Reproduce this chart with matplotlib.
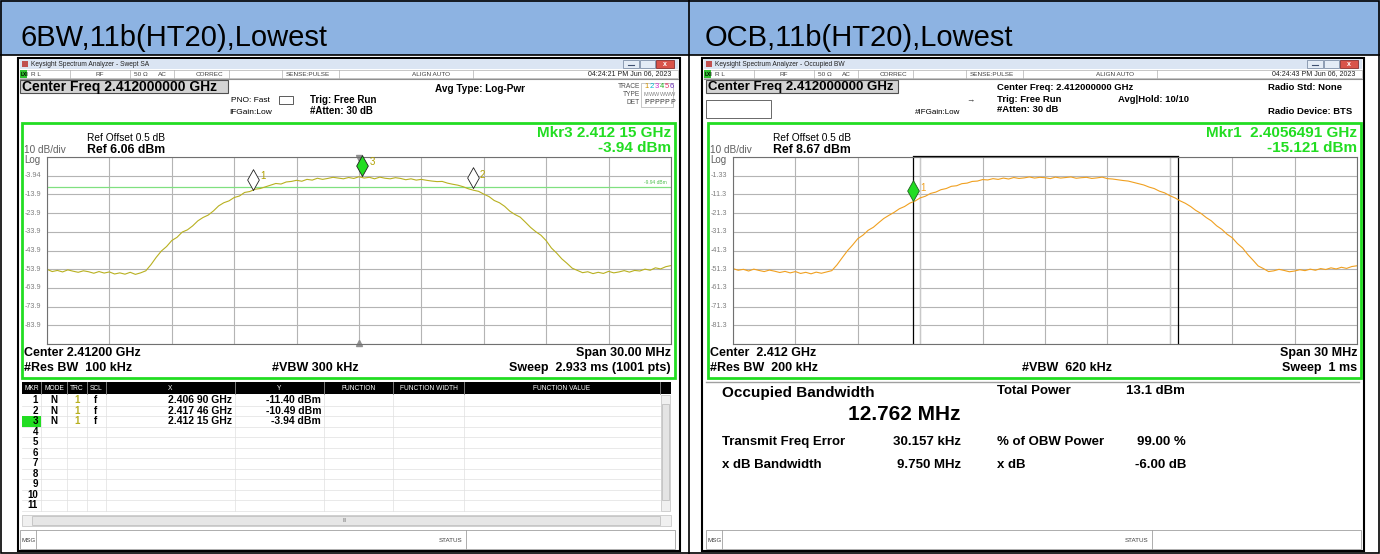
import matplotlib
matplotlib.use("Agg")
import matplotlib.pyplot as plt
from matplotlib.patches import Rectangle

plt.rcParams['font.family'] = ['Liberation Sans', 'DejaVu Sans']

W, H = 1380, 554

# ---- data ----
titles = ["6BW,11b(HT20),Lowest", "OCB,11b(HT20),Lowest"]

# MHz offset from the 2.412 GHz centre
freq_off = [-15.0, -14.75, -14.5, -14.25, -14.0, -13.75, -13.5, -13.25, -13.0, -12.75,
            -12.5, -12.25, -12.0, -11.75, -11.5, -11.25, -11.0, -10.75, -10.5, -10.25,
            -10.0, -9.75, -9.5, -9.25, -9.0, -8.75, -8.5, -8.25, -8.0, -7.75,
            -7.5, -7.25, -7.0, -6.75, -6.5, -6.25, -6.0, -5.75, -5.5, -5.25,
            -5.0, -4.75, -4.5, -4.25, -4.0, -3.75, -3.5, -3.25, -3.0, -2.75,
            -2.5, -2.25, -2.0, -1.75, -1.5, -1.25, -1.0, -0.75, -0.5, -0.25,
            0.0, 0.25, 0.5, 0.75, 1.0, 1.25, 1.5, 1.75, 2.0, 2.25,
            2.5, 2.75, 3.0, 3.25, 3.5, 3.75, 4.0, 4.25, 4.5, 4.75,
            5.0, 5.25, 5.5, 5.75, 6.0, 6.25, 6.5, 6.75, 7.0, 7.25,
            7.5, 7.75, 8.0, 8.25, 8.5, 8.75, 9.0, 9.25, 9.5, 9.75,
            10.0, 10.25, 10.5, 10.75, 11.0, 11.25, 11.5, 11.75, 12.0, 12.25,
            12.5, 12.75, 13.0, 13.25, 13.5, 13.75, 14.0, 14.25, 14.5, 14.75, 15.0]

trace_6bw = [-54.0, -55.2, -54.6, -55.4, -54.3, -55.0, -55.6, -54.8, -55.3, -56.1,
             -55.2, -56.0, -55.4, -56.5, -55.9, -56.6, -55.6, -56.7, -55.9, -54.8,
             -51.5, -47.6, -44.2, -41.8, -38.6, -36.9, -34.1, -32.9, -30.8, -28.1,
             -26.3, -25.0, -22.8, -20.1, -18.4, -17.4, -15.6, -14.8, -12.9, -12.4,
             -11.2, -10.8, -9.9, -9.0, -8.1, -8.4, -7.3, -7.0, -6.4, -6.9,
             -5.9, -6.3, -5.3, -5.9, -5.4, -4.8, -5.2, -5.6, -4.9, -5.4,
             -4.5, -5.2, -4.8, -5.6, -4.7, -5.3, -5.6, -5.0, -5.4, -6.1,
             -5.6, -6.3, -5.9, -6.4, -6.8, -7.1, -7.0, -7.9, -8.5, -9.0,
             -9.8, -10.9, -11.7, -12.3, -13.8, -15.1, -17.2, -18.4, -20.3, -22.9,
             -24.7, -26.1, -28.8, -31.6, -33.9, -35.8, -38.7, -42.6, -45.3, -48.4,
             -50.8, -53.4, -54.6, -55.8, -55.3, -56.3, -55.6, -56.2, -55.1, -55.9,
             -55.4, -54.7, -55.5, -54.6, -54.9, -53.9, -54.5, -53.2, -53.8, -52.6, -52.0]

trace_ocb = [-51.0, -51.9, -51.4, -52.3, -51.3, -52.0, -52.6, -51.8, -52.4, -53.1,
             -52.5, -53.3, -52.6, -53.6, -53.0, -53.8, -52.9, -53.5, -52.8, -52.1,
             -49.0, -45.2, -41.5, -38.4, -35.0, -33.1, -30.5, -28.9, -26.5, -24.2,
             -22.5, -20.9, -19.0, -17.8, -16.0, -14.9, -13.2, -12.3, -10.8, -10.1,
             -8.8, -8.2, -7.0, -6.7, -5.6, -5.3, -4.4, -4.2, -3.4, -3.6,
             -2.9, -3.3, -2.6, -3.1, -2.3, -2.8, -2.5, -2.0, -2.6, -2.2,
             -2.4, -2.9, -2.1, -2.6, -2.3, -2.0, -2.7, -2.4, -2.2, -2.8,
             -2.5, -2.1, -2.9, -3.1, -3.5, -3.9, -4.2, -4.9, -5.6, -6.3,
             -7.4, -8.2, -9.6, -10.5, -12.0, -13.2, -14.8, -16.1, -17.8, -19.9,
             -21.5, -23.7, -25.5, -28.1, -30.0, -32.6, -34.5, -37.6, -40.0, -43.5,
             -46.5, -49.6, -51.0, -52.6, -52.2, -51.4, -52.0, -52.7, -52.3, -51.6,
             -52.1, -51.3, -51.9, -51.0, -51.5, -50.6, -51.2, -50.3, -50.9, -49.9, -49.5]

ref_levels = [6.06, 8.67]
ytick_6bw = ["-3.94", "-13.9", "-23.9", "-33.9", "-43.9", "-53.9", "-63.9", "-73.9", "-83.9"]
ytick_ocb = ["-1.33", "-11.3", "-21.3", "-31.3", "-41.3", "-51.3", "-61.3", "-71.3", "-81.3"]

mkr_names = ["1", "2", "3"]
mkr_freq = [-5.10, 5.46, 0.15]
mkr_level = [-11.40, -10.49, -3.94]
mkr_x_txt = ["2.406 90 GHz", "2.417 46 GHz", "2.412 15 GHz"]
mkr_y_txt = ["-11.40 dBm", "-10.49 dBm", "-3.94 dBm"]
display_line = -9.94

ocb_mkr_freq = -6.35
ocb_mkr_level = -15.121
obw_edges = [-6.35, 6.41]
xdb_edges = [-6.0, 6.0]

table_cols = ["MKR", "MODE", "TRC", "SCL", "X", "Y", "FUNCTION", "FUNCTION WIDTH", "FUNCTION VALUE"]

GREEN = '#22dd22'
HEADER = '#8db3e2'

fig = plt.figure(figsize=(W / 100, H / 100), dpi=100)
bg = fig.add_axes([0, 0, 1, 1])
bg.set_xlim(0, W)
bg.set_ylim(H, 0)
bg.axis('off')


def rect(x0, y0, x1, y1, fc='none', ec='none', lw=1.0, z=1):
    bg.add_patch(Rectangle((x0, y0), x1 - x0, y1 - y0, fc=fc, ec=ec, lw=lw, zorder=z))


def txt(x, y, s, size=6, ha='left', color='black', bold=False, z=5):
    bg.text(x, y, s, fontsize=size, ha=ha, va='center', color=color,
            fontweight='bold' if bold else 'normal', zorder=z)


def ax_px(x0, y0, x1, y1):
    return fig.add_axes([x0 / W, 1 - y1 / H, (x1 - x0) / W, (y1 - y0) / H])


# outer table
rect(0, 0, W, 55, fc=HEADER)
rect(1, 1, W - 1, H - 1, ec='black', lw=1.2, z=6)
bg.plot([0, W], [55, 55], color='black', lw=1.2, zorder=6)
bg.plot([689, 689], [0, H], color='black', lw=1.2, zorder=6)
bg.text(20, 38, titles[0], fontsize=21, va='center')
bg.text(705, 38, titles[1], fontsize=21, va='center')


def window(ox, name, clock):
    rect(ox - 2, 58, ox + 660, 551, fc='white', ec='black', lw=1.5)
    rect(ox, 59, ox + 658, 69, fc='#dbe5f3')
    rect(ox + 2, 61, ox + 8, 67, fc='#c05050')
    txt(ox + 11, 64, "Keysight Spectrum Analyzer - " + name, size=4.8, color='#222222')
    rect(ox + 603, 60, ox + 619, 68, fc='#e4ecf6', ec='#8090a8', lw=0.6)
    rect(ox + 620, 60, ox + 635, 68, fc='#e4ecf6', ec='#8090a8', lw=0.6)
    rect(ox + 636, 60, ox + 654, 68, fc='#d9534a', ec='#8a3030', lw=0.6)
    bg.plot([ox + 608, ox + 614], [65, 65], color='#405070', lw=0.8, zorder=6)
    txt(ox + 645, 64, "x", size=5, ha='center', color='white', bold=True, z=7)
    # status row
    rect(ox, 70, ox + 658, 78, fc='white', ec='#b0b0b0', lw=0.5)
    rect(ox, 70, ox + 7, 78, fc='#30c030')
    txt(ox + 1, 74, "LXI", size=3.5, bold=True)
    for sx in [50, 110, 154, 209, 262, 319, 453]:
        bg.plot([ox + sx, ox + sx], [70, 78], color='#b0b0b0', lw=0.5, zorder=3)
    for sx, s in [(11, "R L"), (75, "RF"), (114, "50 Ω"), (138, "AC"), (176, "CORREC"),
                  (266, "SENSE:PULSE"), (392, "ALIGN AUTO")]:
        txt(ox + sx, 74, s, size=4.6, color='#404040')
    txt(ox + 651, 74, clock, size=5, ha='right', color='#202020')
    bg.plot([ox, ox + 658], [79, 79], color='#909090', lw=0.8, zorder=3)


def screen(ox, ref, ticks, bottom_l, bottom_c, bottom_r, mkr_txt):
    rect(ox + 2, 123, ox + 655, 378, fc='white', ec=GREEN, lw=2.0, z=2)
    txt(ox + 651, 133, mkr_txt[0], size=11, ha='right', color=GREEN, bold=True)
    txt(ox + 651, 148, mkr_txt[1], size=11, ha='right', color=GREEN, bold=True)
    txt(ox + 67, 138, "Ref Offset 0.5 dB", size=7.3)
    txt(ox + 67, 150, "Ref %.2f dBm" % ref, size=8.8, bold=True)
    txt(ox + 4, 150, "10 dB/div", size=7.2, color='#606060')
    txt(ox + 4, 160, "Log", size=7, color='#606060')
    top, bot = 157, 344
    div = (bot - top) / 10.0
    for i, s in enumerate(ticks):
        txt(ox + 5, top + (i + 1) * div, s, size=5.2, color='#808080')
    txt(ox + 4, 353, bottom_l[0], size=9, bold=True)
    txt(ox + 4, 368, bottom_l[1], size=9, bold=True)
    txt(bottom_c[0], 368, bottom_c[1], size=9, bold=True)
    txt(ox + 651, 353, bottom_r[0], size=9, ha='right', bold=True)
    txt(ox + 651, 368, bottom_r[1], size=9, ha='right', bold=True)
    ax = ax_px(ox + 27, top, ox + 651, bot)
    ax.set_xlim(-15, 15)
    ax.set_ylim(ref - 100, ref)
    ax.set_xticks([-15 + 3 * i for i in range(11)])
    ax.set_yticks([ref - 10 * i for i in range(11)])
    ax.grid(True, color='#b4b4b4', lw=0.8)
    ax.tick_params(length=0, labelbottom=False, labelleft=False)
    for sp in ax.spines.values():
        sp.set_color('#707070')
        sp.set_linewidth(0.8)
    ax.set_zorder(3)
    return ax


diamond = [(0, 0), (0.28, 0.5), (0, 1), (-0.28, 0.5), (0, 0)]

# ---------- left: 6 dB bandwidth (swept SA) ----------
ox = 20
window(ox, "Swept SA", "04:24:21 PM Jun 06, 2023")
rect(ox, 80, ox + 208, 93, fc='#d4d4d4', ec='#505050', lw=0.8)
txt(ox + 2, 87, "Center Freq 2.412000000 GHz", size=10, bold=True)
txt(ox + 250, 101, "PNO: Fast", size=6, ha='right')
txt(ox + 252, 112, "IFGain:Low", size=6, ha='right')
rect(ox + 259, 96, ox + 273, 104, fc='white', ec='#404040', lw=0.6)
txt(ox + 290, 100, "Trig: Free Run", size=7, bold=True)
txt(ox + 290, 111, "#Atten: 30 dB", size=7, bold=True)
txt(ox + 415, 89, "Avg Type: Log-Pwr", size=7.2, bold=True)
txt(ox + 620, 87, "TRACE", size=4.8, ha='right', color='#505050')
txt(ox + 620, 95, "TYPE", size=4.8, ha='right', color='#505050')
txt(ox + 620, 103, "DET", size=4.8, ha='right', color='#505050')
rect(ox + 621, 83, ox + 653, 107, fc='white', ec='#b0b0b0', lw=0.5)
for k, c in enumerate(['#d09000', '#00b8d0', '#d030d0', '#20b020', '#e03060', '#7030c0']):
    txt(ox + 624 + 5.2 * k, 87, str(k + 1), size=5.5, color=c)
    txt(ox + 624 + 5.2 * k, 95, "M" if k == 0 else "W", size=4, color='#808080')
    txt(ox + 624 + 5.2 * k, 103, "P", size=5, color='#303030')

axl = screen(ox, ref_levels[0], ytick_6bw, ["Center 2.41200 GHz", "#Res BW  100 kHz"],
             (ox + 252, "#VBW 300 kHz"), ["Span 30.00 MHz", "Sweep  2.933 ms (1001 pts)"],
             ["Mkr3 2.412 15 GHz", "-3.94 dBm"])
axl.axhline(display_line, color='#80e080', lw=0.9)
axl.text(14.8, display_line + 0.8, "-9.94 dBm", fontsize=3.5, color='#50c050', ha='right', va='bottom')
axl.plot(freq_off, trace_6bw, color='#b8b020', lw=0.8)
for n, f, lv in zip(mkr_names, mkr_freq, mkr_level):
    fc = GREEN if n == "3" else 'white'
    axl.plot([f], [lv], marker=diamond, ms=30, mfc=fc, mec='#202020', mew=0.6, clip_on=False, zorder=6)
    axl.text(f + 0.35, lv + 5.5, n, fontsize=7, color='#b0a000', zorder=6)
axl.plot([0.0], [ref_levels[0] - 0.6], marker='v', ms=4, color='#909090', clip_on=False)
axl.plot([0.0], [ref_levels[0] - 99.3], marker='^', ms=4, color='#909090', clip_on=False)

# marker table
cols = [22, 41, 67, 87, 106, 235, 324, 393, 464, 660]
rect(22, 382, 671, 394, fc='black', z=3)
for a, b, s in zip(cols[:-1], cols[1:], table_cols):
    txt((a + b) / 2, 388, s, size=4.8, ha='center', color='white', z=6)
    bg.plot([b, b], [382, 394], color='#909090', lw=0.6, zorder=4)
rh = 10.5
for r in range(11):
    y0 = 395 + r * rh
    bg.plot([22, 660], [y0 + rh, y0 + rh], color='#e0e0e0', lw=0.5, zorder=3)
    if r == 2:
        rect(22, y0, 41, y0 + rh, fc=GREEN, z=3)
    txt(38, y0 + rh / 2, str(r + 1), size=7, ha='right', bold=True)
for b in cols[1:-1]:
    bg.plot([b, b], [394, 511], color='#e0e0e0', lw=0.5, zorder=3)
for r in range(3):
    yc = 395 + r * rh + rh / 2
    txt(54, yc, "N", size=7, ha='center', bold=True)
    txt(77, yc, "1", size=7, ha='center', color='#b8b020', bold=True)
    txt(96, yc, "f", size=7, ha='center', bold=True)
    txt(232, yc, mkr_x_txt[r], size=7.5, ha='right', bold=True)
    txt(321, yc, mkr_y_txt[r], size=7.5, ha='right', bold=True)
rect(661, 395, 670, 511, fc='#f0f0f0', ec='#c0c0c0', lw=0.5)
rect(662, 404, 669, 500, fc='#e4e4e4', ec='#b8b8b8', lw=0.5)
rect(22, 515, 671, 526, fc='#f0f0f0', ec='#c0c0c0', lw=0.5)
rect(32, 516, 660, 525, fc='#e6e6e6', ec='#b8b8b8', lw=0.5)
txt(345, 520, "III", size=3.5, ha='center', color='#707070')


def msgbar(ox):
    rect(ox, 530, ox + 655, 549, fc='white', ec='#a0a0a0', lw=0.6)
    txt(ox + 2, 540, "MSG", size=4.5, color='#404040')
    bg.plot([ox + 16, ox + 16], [530, 549], color='#a0a0a0', lw=0.6, zorder=3)
    txt(ox + 419, 540, "STATUS", size=4.5, color='#404040')
    bg.plot([ox + 446, ox + 446], [530, 549], color='#a0a0a0', lw=0.6, zorder=3)


msgbar(ox)

# ---------- right: occupied bandwidth ----------
ox = 704
window(ox, "Occupied BW", "04:24:43 PM Jun 06, 2023")
rect(ox + 2, 80, ox + 194, 93, fc='#d4d4d4', ec='#505050', lw=0.8)
txt(ox + 4, 87, "Center Freq 2.412000000 GHz", size=9.5, bold=True)
rect(ox + 2, 100, ox + 67, 118, fc='white', ec='#505050', lw=0.6)
txt(ox + 256, 113, "#IFGain:Low", size=5.8, ha='right')
txt(ox + 262, 101, "→", size=6, color='#303030')
txt(ox + 293, 88, "Center Freq: 2.412000000 GHz", size=6.8, bold=True)
txt(ox + 293, 99, "Trig: Free Run", size=6.8, bold=True)
txt(ox + 293, 110, "#Atten: 30 dB", size=6.8, bold=True)
txt(ox + 414, 99, "Avg|Hold: 10/10", size=6.8, bold=True)
txt(ox + 564, 88, "Radio Std: None", size=6.8, bold=True)
txt(ox + 564, 111, "Radio Device: BTS", size=6.8, bold=True)

axr = screen(ox + 2, ref_levels[1], ytick_ocb, ["Center  2.412 GHz", "#Res BW  200 kHz"],
             (ox + 318, "#VBW  620 kHz"), ["Span 30 MHz", "Sweep  1 ms"],
             ["Mkr1  2.4056491 GHz", "-15.121 dBm"])
for e in xdb_edges:
    axr.axvline(e, color='#c8c8c8', lw=1.0)
for e in obw_edges:
    axr.axvline(e, color='black', lw=0.9)
axr.plot(obw_edges, [ref_levels[1] + 0.4] * 2, color='black', lw=0.9, clip_on=False)
axr.plot(freq_off, trace_ocb, color='#f0a020', lw=0.8)
axr.plot([ocb_mkr_freq], [ocb_mkr_level], marker=diamond, ms=30, mfc=GREEN, mec='#206020',
         mew=0.6, clip_on=False, zorder=6)
axr.text(ocb_mkr_freq + 0.35, ocb_mkr_level + 5.5, "1", fontsize=7, color='#f0a020', zorder=6)

# results panel
bg.plot([ox + 2, ox + 655], [382, 382], color='#a0a0a0', lw=1.0, zorder=3)
txt(ox + 18, 393, "Occupied Bandwidth", size=11, bold=True)
txt(ox + 257, 414, "12.762 MHz", size=15, ha='right', bold=True)
txt(ox + 293, 391, "Total Power", size=9.5, bold=True)
txt(ox + 422, 391, "13.1 dBm", size=9.5, bold=True)
txt(ox + 18, 442, "Transmit Freq Error", size=9.5, bold=True)
txt(ox + 257, 442, "30.157 kHz", size=9.5, ha='right', bold=True)
txt(ox + 293, 442, "% of OBW Power", size=9.5, bold=True)
txt(ox + 482, 442, "99.00 %", size=9.5, ha='right', bold=True)
txt(ox + 18, 465, "x dB Bandwidth", size=9.5, bold=True)
txt(ox + 257, 465, "9.750 MHz", size=9.5, ha='right', bold=True)
txt(ox + 293, 465, "x dB", size=9.5, bold=True)
txt(ox + 482, 465, "-6.00 dB", size=9.5, ha='right', bold=True)
msgbar(ox + 2)

fig.savefig("out.png", dpi=100)
